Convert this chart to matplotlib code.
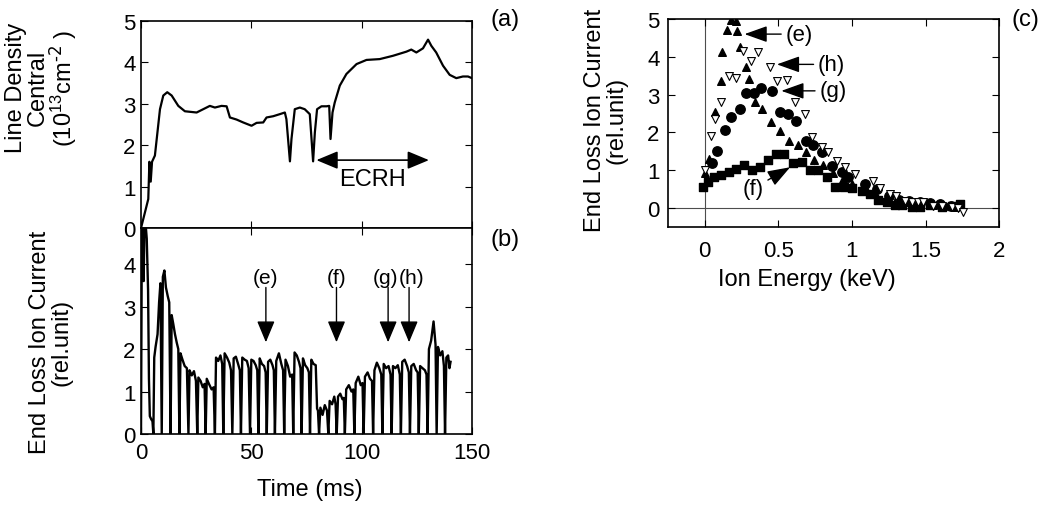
import matplotlib.pyplot as plt

plt.rcParams['font.family'] = ['Liberation Sans', 'DejaVu Sans']
plt.rcParams['mathtext.default'] = 'regular'

# (a) central line density, 10^13 cm^-2
t_a = [0.0, 1.8, 3.3, 3.8, 4.4, 5.0, 6.3, 8.6, 10.1, 11.9, 13.9, 16.9, 19.9, 25.2, 28.2,
       31.2, 33.5, 36.5, 38.8, 40.3, 43.3, 46.3, 50.1, 52.4, 55.4, 56.9, 59.9, 62.9, 65.2,
       65.9, 67.5, 68.2, 69.7, 72.0, 74.2, 76.5, 78.0, 78.8, 79.8, 81.8, 84.1, 85.3, 85.9,
       86.8, 87.8, 90.1, 93.1, 97.7, 102.2, 108.2, 114.2, 120.3, 122.5, 124.8, 127.8, 130.1,
       131.6, 133.8, 136.9, 139.9, 142.9, 145.9, 148.2, 150.0]
n_a = [0.0, 0.38, 0.7, 1.6, 1.12, 1.6, 1.75, 2.87, 3.2, 3.28, 3.2, 2.95, 2.82, 2.79, 2.87,
       2.95, 2.91, 2.95, 2.94, 2.67, 2.62, 2.55, 2.47, 2.54, 2.55, 2.67, 2.70, 2.75, 2.79,
       2.63, 1.61, 2.15, 2.87, 2.91, 2.87, 2.75, 1.61, 2.31, 2.87, 2.94, 2.94, 2.95, 2.15,
       2.79, 3.03, 3.44, 3.72, 3.96, 4.06, 4.08, 4.16, 4.26, 4.31, 4.24, 4.34, 4.55,
       4.40, 4.24, 3.92, 3.70, 3.62, 3.66, 3.66, 3.62]

# (b) end loss ion current, rel. unit (one row per pulse, ends at the dip to zero)
t_b = [0.0, 0.4, 0.8, 1.2, 1.6, 2.0, 2.6, 3.2, 3.6, 4.0, 4.6, 5.2, 5.6,
       6.0, 6.6, 7.5, 8.2, 8.8, 9.4,
       9.9, 10.6, 11.3, 12.1, 12.8, 13.4,
       13.9, 14.6, 15.4, 16.2, 16.9, 17.4,
       17.9, 18.8, 19.8, 20.8, 21.5,
       22.0, 23.0, 24.0, 24.9, 25.5,
       26.0, 27.0, 28.0, 28.8, 29.3,
       29.8, 30.8, 32.0, 32.9, 33.5,
       34.0, 35.0, 36.0, 36.8, 37.3,
       37.9, 39.0, 40.0, 40.8, 41.4,
       42.0, 43.0, 44.0, 44.8, 45.3,
       45.9, 47.0, 48.0, 48.8, 49.4,
       50.0, 51.0, 52.0, 52.7, 53.2,
       53.8, 54.8, 55.8, 56.5, 57.0,
       57.6, 58.6, 59.6, 60.2, 60.7,
       61.3, 62.5, 63.6, 64.4, 64.9,
       65.5, 66.6, 67.6, 68.5, 69.0,
       69.6, 70.6, 71.6, 72.3, 72.8,
       73.4, 74.4, 75.4, 76.1, 76.6,
       77.2, 78.2, 79.2, 79.8, 80.2, 80.7,
       81.3, 82.3, 83.3, 84.3, 84.9,
       85.5, 86.6, 87.6, 88.2, 88.7,
       89.3, 90.3, 91.3, 91.9, 92.4,
       93.0, 94.2, 95.4, 96.2, 96.7,
       97.3, 98.5, 99.6, 100.4, 100.9,
       101.5, 102.7, 103.8, 104.7, 105.2,
       105.8, 106.9, 108.0, 108.9, 109.4,
       110.0, 111.1, 112.2, 113.1, 113.6,
       114.2, 115.3, 116.4, 117.3, 117.8,
       118.4, 119.5, 120.6, 121.4, 121.9,
       122.5, 123.6, 124.7, 125.4, 125.9,
       126.5, 127.6, 128.7, 129.4, 129.9,
       130.5, 131.5, 132.6, 133.5, 134.0,
       134.6, 135.6, 136.6, 137.3, 137.8,
       138.4, 139.2, 139.8, 140.3]
i_b = [0.0, 5.0, 5.0, 3.6, 5.0, 5.0, 4.6, 3.4, 1.3, 0.42, 0.35, 0.3, 0.0,
       1.8, 2.05, 2.35, 3.1, 3.55, 0.0,
       3.7, 3.85, 3.45, 3.25, 3.1, 0.0,
       2.8, 2.6, 2.35, 2.15, 2.0, 0.0,
       1.9, 1.75, 1.6, 1.55, 0.0,
       1.5, 1.38, 1.48, 1.25, 0.0,
       1.33, 1.25, 1.1, 1.18, 0.0,
       1.3, 1.18, 1.05, 1.1, 0.0,
       1.8, 1.72, 1.85, 1.65, 0.0,
       1.9, 1.8, 1.68, 1.5, 0.0,
       1.78, 1.82, 1.65, 1.5, 0.0,
       1.8, 1.75, 1.72, 1.55, 0.0,
       1.75, 1.72, 1.62, 1.5, 0.0,
       1.78, 1.65, 1.6, 1.45, 0.0,
       1.7, 1.75, 1.62, 1.5, 0.0,
       1.72, 1.9, 1.65, 1.5, 0.0,
       1.75, 1.6, 1.35, 1.4, 0.0,
       1.92, 1.85, 1.7, 1.55, 0.0,
       1.78, 1.62, 1.55, 1.45, 0.0,
       1.75, 1.65, 1.62, 0.6, 0.55, 0.0,
       0.62, 0.45, 0.68, 0.55, 0.0,
       0.78, 0.7, 0.88, 0.7, 0.0,
       0.88, 0.95, 0.82, 0.85, 0.0,
       1.05, 1.15, 1.0, 1.05, 0.0,
       1.2, 1.35, 1.15, 1.2, 0.0,
       1.35, 1.45, 1.3, 1.25, 0.0,
       1.5, 1.68, 1.55, 1.4, 0.0,
       1.65, 1.55, 1.6, 1.4, 0.0,
       1.6, 1.55, 1.62, 1.4, 0.0,
       1.7, 1.75, 1.6, 1.45, 0.0,
       1.6, 1.65, 1.5, 1.45, 0.0,
       1.6, 1.55, 1.5, 1.4, 0.0,
       2.0, 2.2, 2.65, 2.1, 0.0,
       2.05, 1.85, 1.95, 1.6, 0.0,
       1.8, 1.85, 1.55, 1.7]

# times of the spectra shown in (c), and where their labels sit
mark_labels = ['(e)', '(f)', '(g)', '(h)']
mark_times = [56.6, 88.6, 112.0, 121.5]
label_times = [56.6, 88.6, 110.8, 122.8]

# (c) energy spectra
E_e = [0.0, 0.03, 0.07, 0.11, 0.12, 0.15, 0.18, 0.21, 0.22, 0.24, 0.28, 0.30, 0.34, 0.39,
       0.45, 0.51, 0.57, 0.63, 0.69, 0.74, 0.80, 0.87, 0.94, 1.0, 1.09, 1.16, 1.24, 1.30,
       1.39, 1.46, 1.55, 1.62, 1.70]
I_e = [0.93, 1.3, 2.53, 3.37, 4.12, 4.71, 4.97, 4.95, 4.67, 4.27, 3.74, 3.41, 2.81, 2.62,
       2.27, 2.05, 1.78, 1.67, 1.47, 1.27, 1.15, 0.94, 0.77, 0.65, 0.55, 0.41, 0.28, 0.19,
       0.15, 0.11, 0.08, 0.06, 0.04]

E_f = [-0.01, 0.025, 0.06, 0.113, 0.166, 0.215, 0.267, 0.318, 0.374, 0.432, 0.487, 0.54,
       0.598, 0.658, 0.714, 0.771, 0.828, 0.888, 0.945, 1.0, 1.066, 1.125, 1.18, 1.236,
       1.29, 1.34, 1.406, 1.46, 1.53, 1.61, 1.68, 1.735]
I_f = [0.55, 0.69, 0.81, 0.88, 0.96, 1.03, 1.13, 1.02, 1.08, 1.28, 1.44, 1.44,
       1.2, 1.21, 1.02, 1.0, 0.82, 0.57, 0.55, 0.54, 0.45, 0.38, 0.22, 0.15,
       0.08, 0.08, 0.04, 0.02, 0.08, 0.04, 0.06, 0.1]

E_g = [0.05, 0.084, 0.136, 0.177, 0.238, 0.279, 0.336, 0.385, 0.46, 0.51, 0.567, 0.62,
       0.687, 0.737, 0.794, 0.862, 0.93, 0.975, 1.09, 1.17, 1.25, 1.32, 1.39, 1.46, 1.53,
       1.6, 1.67]
I_g = [1.18, 1.52, 2.07, 2.40, 2.62, 3.03, 3.03, 3.17, 3.1, 2.53, 2.49, 2.31,
       1.78, 1.67, 1.47, 1.12, 0.95, 0.81, 0.63, 0.5, 0.33, 0.22, 0.18, 0.16, 0.14,
       0.1, 0.06]

E_h = [0.0, 0.045, 0.068, 0.113, 0.166, 0.21, 0.26, 0.317, 0.363, 0.442, 0.488, 0.56,
       0.612, 0.68, 0.726, 0.794, 0.84, 0.9, 0.952, 1.02, 1.145, 1.19, 1.26, 1.30, 1.36,
       1.405, 1.45, 1.485, 1.55, 1.61, 1.68, 1.72, 1.755]
I_h = [1.0, 1.91, 2.36, 2.81, 3.5, 3.44, 4.16, 3.9, 4.14, 3.74, 3.37, 3.39,
       2.81, 2.5, 1.87, 1.62, 1.47, 1.24, 1.08, 0.9, 0.72, 0.53, 0.38, 0.33, 0.19,
       0.17, 0.17, 0.17, 0.06, 0.06, 0.02, 0.0, -0.11]

fig = plt.figure(figsize=(10.57, 5.06), dpi=100)
ax_a = fig.add_axes([0.1334, 0.5474, 0.3131, 0.4091])
ax_b = fig.add_axes([0.1334, 0.1403, 0.3131, 0.4071])
ax_c = fig.add_axes([0.632, 0.5494, 0.3132, 0.4111])

for ax in (ax_a, ax_b, ax_c):
    ax.tick_params(direction='in', top=True, right=True, length=5, width=0.8, labelsize=16)
    for s in ax.spines.values():
        s.set_linewidth(1.2)

# panel (a)
ax_a.plot(t_a, n_a, color='black', lw=1.6)
ax_a.set_xlim(0, 150)
ax_a.set_ylim(0, 5)
ax_a.set_xticks([0, 50, 100, 150])
ax_a.set_yticks([0, 1, 2, 3, 4, 5])
ax_a.tick_params(labelbottom=False, pad=4)
ax_a.annotate('', xy=(79.5, 1.64), xytext=(130.5, 1.64),
              arrowprops=dict(arrowstyle='<|-|>,head_length=0.6,head_width=0.25',
                              color='black', lw=1.2, mutation_scale=22,
                              shrinkA=0, shrinkB=0))
ax_a.text(105, 1.18, 'ECRH', fontsize=17, ha='center', va='center')

# panel (b)
ax_b.plot(t_b, i_b, color='black', lw=1.7)
ax_b.set_xlim(0, 150)
ax_b.set_ylim(0, 4.85)
ax_b.set_xticks([0, 50, 100, 150])
ax_b.set_yticks([0, 1, 2, 3, 4])
ax_b.tick_params(axis='x', pad=6)
ax_b.tick_params(axis='y', pad=4)
for lab, tm, tl in zip(mark_labels, mark_times, label_times):
    ax_b.annotate('', xy=(tm, 2.16), xytext=(tm, 3.45),
                  arrowprops=dict(arrowstyle='-|>,head_length=0.6,head_width=0.25',
                                  color='black', lw=1.0, mutation_scale=22,
                                  shrinkA=0, shrinkB=0))
    ax_b.text(tl, 3.68, lab, fontsize=15, ha='center', va='center')

# panel (c)
ax_c.axhline(0, color='0.3', lw=0.8, zorder=1)
ax_c.axvline(0, color='0.3', lw=0.8, zorder=1)
ax_c.scatter(E_f, I_f, marker='s', s=38, color='black', zorder=3)
ax_c.scatter(E_g, I_g, marker='o', s=46, color='black', zorder=3)
ax_c.scatter(E_e, I_e, marker='^', s=30, color='black', zorder=4)
ax_c.scatter(E_h, I_h, marker='v', s=32, facecolor='white', edgecolor='black',
             linewidths=0.8, zorder=4)
ax_c.set_xlim(-0.25, 2)
ax_c.set_ylim(-0.5, 5)
ax_c.set_xticks([0, 0.5, 1, 1.5, 2])
ax_c.set_xticklabels(['0', '0.5', '1', '1.5', '2'])
ax_c.set_yticks([0, 1, 2, 3, 4, 5])
ax_c.tick_params(axis='x', pad=9)
ax_c.tick_params(axis='y', pad=6)

arrow_c = dict(arrowstyle='-|>,head_length=0.7,head_width=0.25', color='black',
               lw=1.0, mutation_scale=20, shrinkA=1, shrinkB=0)
ax_c.annotate('(e)', xy=(0.27, 4.6), xytext=(0.64, 4.6), fontsize=16,
              ha='center', va='center', arrowprops=arrow_c)
ax_c.annotate('(h)', xy=(0.49, 3.8), xytext=(0.86, 3.8), fontsize=16,
              ha='center', va='center', arrowprops=arrow_c)
ax_c.annotate('(g)', xy=(0.52, 3.1), xytext=(0.87, 3.1), fontsize=16,
              ha='center', va='center', arrowprops=arrow_c)
ax_c.annotate('(f)', xy=(0.58, 1.08), xytext=(0.33, 0.52), fontsize=16,
              ha='center', va='center', arrowprops=arrow_c)

# axis labels and panel tags
fig.text(42 / 1057, 1 - 88 / 506, 'Line Density\nCentral\n(10$^{13}$cm$^{\\text{-2}}$ )',
         rotation=90, ha='center', va='center', fontsize=17, linespacing=0.95)
fig.text(51 / 1057, 1 - 342 / 506, 'End Loss Ion Current\n(rel.unit)',
         rotation=90, ha='center', va='center', fontsize=17, linespacing=0.95)
fig.text(606 / 1057, 1 - 120 / 506, 'End Loss Ion Current\n(rel.unit)',
         rotation=90, ha='center', va='center', fontsize=17, linespacing=0.95)
fig.text(310 / 1057, 1 - 490 / 506, 'Time (ms)', ha='center', va='center', fontsize=17)
fig.text(807 / 1057, 1 - 280 / 506, 'Ion Energy (keV)', ha='center', va='center', fontsize=17)
fig.text(505 / 1057, 1 - 20 / 506, '(a)', ha='center', va='center', fontsize=17)
fig.text(505 / 1057, 1 - 240 / 506, '(b)', ha='center', va='center', fontsize=17)
fig.text(1025 / 1057, 1 - 20 / 506, '(c)', ha='center', va='center', fontsize=17)

fig.savefig('out.png', dpi=100)
